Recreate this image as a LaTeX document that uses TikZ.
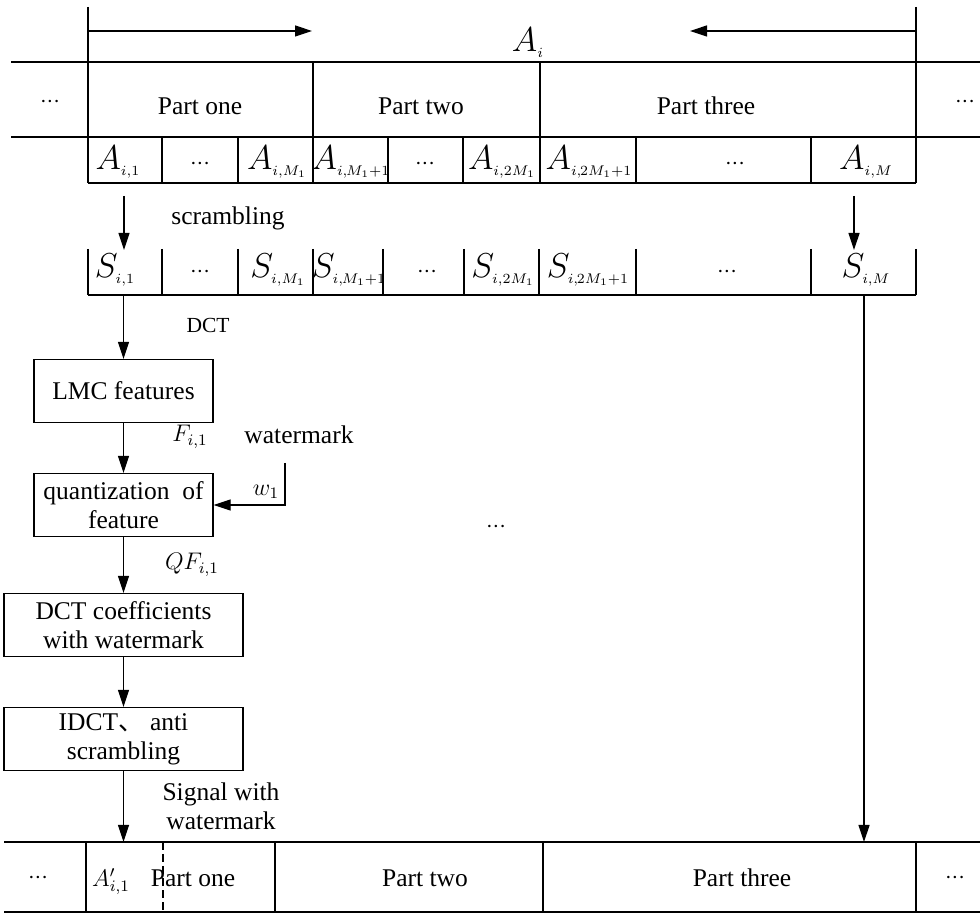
\documentclass[tikz,border=0pt]{standalone}
\usepackage{fontspec}
\setmainfont{Liberation Serif}
\newfontfamily\cjk{Noto Sans CJK SC}
\usetikzlibrary{arrows.meta, positioning, calc}
\DeclareMathSizes{17.28}{17.28}{7}{5}
\newcommand{\ddd}{{\fontsize{12.75}{14.5}\selectfont${\cdot}{\cdot}{\cdot}$}}

\begin{document}
\begin{tikzpicture}[
    x=0.5pt, y=-0.5pt, line width=0.6pt,
    txt/.style={font=\fontsize{12.75}{14.5}\selectfont, inner sep=0pt, align=center},
    small/.style={font=\fontsize{10.75}{12}\selectfont, inner sep=0pt},
    mth/.style={font=\fontsize{17.28}{20}\selectfont, inner sep=0pt},
    lbl/.style={font=\fontsize{12}{14}\selectfont, inner sep=0pt},
    box/.style={draw, inner sep=0pt, minimum height=31.5pt, align=center,
                font=\fontsize{12.75}{14.5}\selectfont},
    arrow/.style={-{Triangle[length=8.5pt, width=5.5pt]}},
]
\useasboundingbox (0,0) rectangle (980,913);

% span of A_i
\coordinate (tl) at (88,7);
\coordinate (tr) at (916,7);
\coordinate (la) at (312,31);
\coordinate (ra) at (690,31);
\draw (tl) -- (88,183);
\draw (tr) -- (916,183);
\draw[arrow] (tl |- la) -- (la);
\draw[arrow] (tr |- ra) -- (ra);
\node[mth, anchor=base] (ai) at (528,52) {$A_i$};

% row of parts
\draw (11,62) -- (980,62) (11,137) -- (980,137);
\draw (313,62) -- (313,183) (540,62) -- (540,183);
\node[txt, anchor=base] (dl) at (50,108) {\ddd};
\node[txt, anchor=base] (p1) at (200,115) {Part one};
\node[txt, anchor=base] (p2) at (421,115) {Part two};
\node[txt, anchor=base] (p3) at (706,115) {Part three};
\node[txt, anchor=base] (dr) at (965,108) {\ddd};

% row of A cells
\draw (88,183) -- (916,183);
\foreach \x in {162,238,388,463,636,811} \draw (\x,137) -- (\x,183);
\foreach \nm/\x/\lbl in {a1/118/{$A_{i,1}$}, a2/200/\ddd, a3/277/{$A_{i,M_1}$},
    a4/351/{$A_{i,\mkern-1.5mu M_1+1}$}, a5/425/\ddd, a6/502/{$A_{i,2M_1}$},
    a7/589/{$A_{i,\mkern-1.5mu 2M_1+1}$}, a8/735/\ddd, a9/866/{$A_{i,M}$}}
  \node[mth, anchor=base] (\nm) at (\x,170) {\lbl};

% scrambling
\coordinate (srow) at (0,250);
\coordinate (sc1) at (124,196);
\coordinate (sc2) at (854,196);
\draw[arrow] (sc1) -- (sc1 |- srow);
\draw[arrow] (sc2) -- (sc2 |- srow);
\node[txt] (scr) at (228,218) {scrambling};

% row of S cells
\draw (88,295) -- (916,295);
\foreach \x in {88,162,238,313,383,464,539,636,811,916} \draw (\x,249) -- (\x,295);
\foreach \nm/\x/\lbl in {s1/115/{$S_{i,1}$}, s2/200/\ddd, s3/278/{$S_{i,M_1}$},
    s4/349/{$S_{i,\mkern-1.5mu M_1+1}$}, s5/427/\ddd, s6/503/{$S_{i,2M_1}$},
    s7/588/{$S_{i,\mkern-1.5mu 2M_1+1}$}, s8/727/\ddd, s9/866/{$S_{i,M}$}}
  \node[mth, anchor=base] (\nm) at (\x,278) {\lbl};

% embedding chain
\coordinate (srowb) at (0,295);
\node[box, minimum width=89.5pt] (lmc) at (123.5,391) {LMC features};
\node[box, minimum width=89.5pt] (quant) at (123.5,505) {quantization\ \ of\\feature};
\node[box, minimum width=119.5pt] (dctc) at (123.5,625) {DCT coefficients\\with watermark};
\node[box, minimum width=119.5pt] (idct) at (123.5,739) {IDCT{\cjk 、} anti\\scrambling};

\draw[arrow] (lmc.north |- srowb) -- (lmc.north);
\node[small] (dct) at (208,325) {DCT};
\draw[arrow] (lmc) -- (quant);
\node[lbl] (f1) at (190,437) {$F_{i,1}$};
\draw[arrow] (quant) -- (dctc);
\node[lbl] (qf1) at (192,565) {$QF_{i,1}$};
\draw[arrow] (dctc) -- (idct);

% watermark input
\coordinate (wm) at (285,463);
\node[txt] (wmk) at (299,435) {watermark};
\node[lbl] (w1) at (266,492) {$w_1$};
\draw[arrow] (wm) |- (quant.east);

\node[txt, anchor=base] (mid) at (496,533) {\ddd};

% output row
\coordinate (brow) at (0,842);
\draw[arrow] (idct.south) -- (idct.south |- brow);
\node[txt] (sig) at (221,806) {Signal with\\watermark};
\coordinate (sm) at (864,295);
\draw[arrow] (sm) -- (sm |- brow);

\draw (4,842) -- (980,842) (4,912) -- (980,912);
\foreach \x in {86,275,543,916} \draw (\x,842) -- (\x,912);
\draw[dash pattern=on 4pt off 2pt] (163,842) -- (163,912);
\node[txt, anchor=base] (bl) at (38,884) {\ddd};
\node[lbl, anchor=base] (ap) at (111,886) {$A'_{i,1}$};
\node[txt, anchor=base] (b1) at (193,886) {Part one};
\node[txt, anchor=base] (b2) at (425,886) {Part two};
\node[txt, anchor=base] (b3) at (742,886) {Part three};
\node[txt, anchor=base] (br) at (955,884) {\ddd};

\end{tikzpicture}
\end{document}
